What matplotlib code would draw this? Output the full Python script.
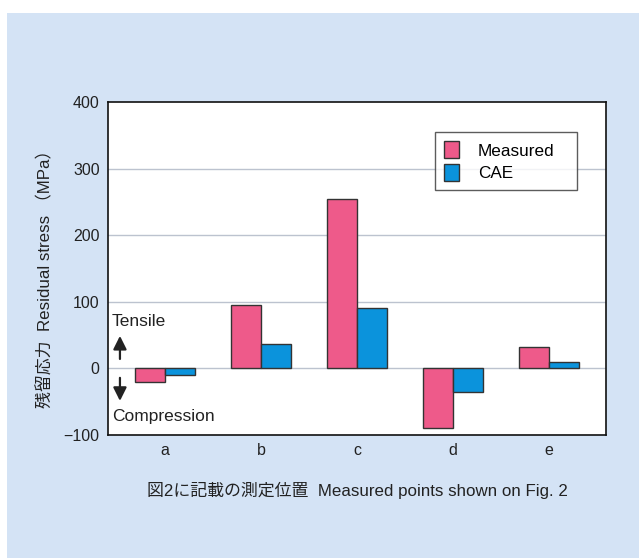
import matplotlib
matplotlib.use("Agg")
import matplotlib.pyplot as plt
import numpy as np
from matplotlib.patches import Rectangle

plt.rcParams['font.family'] = ['Liberation Sans', 'Noto Sans CJK JP', 'DejaVu Sans']

# ---------------------------------------------------------------------------
# Data
# ---------------------------------------------------------------------------
points = ["a", "b", "c", "d", "e"]
measured = [-20, 95, 255, -90, 32]
cae = [-10, 37, 90, -35, 10]
y_ticks = [-100, 0, 100, 200, 300, 400]

PINK = "#ee5a8a"
BLUE = "#0b93dc"
BG = "#d4e3f5"
EDGE = "#333333"

fig = plt.figure(figsize=(6.39, 5.58), dpi=100)
fig.patch.set_facecolor("white")
fig.patches.append(Rectangle((7 / 639, 0), 1, 1 - 13 / 558, transform=fig.transFigure,
                             facecolor=BG, edgecolor="none", zorder=-10))

ax = fig.add_axes([108 / 639, 1 - 435 / 558, 498 / 639, 333 / 558])
ax.set_facecolor("white")

x = np.arange(len(points))
w = 0.3125
ax.bar(x - w / 2, measured, w, color=PINK, edgecolor=EDGE, linewidth=1, zorder=3, label="Measured")
ax.bar(x + w / 2, cae, w, color=BLUE, edgecolor=EDGE, linewidth=1, zorder=3, label="CAE")

ax.set_xlim(-0.594, 4.594)
ax.set_ylim(-100, 400)
ax.set_yticks(y_ticks)
ax.set_yticklabels(["\u2212100" if t < 0 else str(t) for t in y_ticks])
ax.set_xticks(x)
ax.set_xticklabels(points)
ax.tick_params(length=0, labelsize=11.5, colors="#222222", pad=6)

for t in [0, 100, 200, 300]:
    ax.axhline(t, color="#bcc3cf", linewidth=1, zorder=1)

for s in ax.spines.values():
    s.set_color("#111111")
    s.set_linewidth(1.2)

ax.set_ylabel("残留応力  Residual stress （MPa）", fontsize=12.2, color="#222222",
              va="center", ha="center")
ax.yaxis.set_label_coords((45 - 108) / 498, (435 - 275) / 333)
ax.set_xlabel("図2に記載の測定位置  Measured points shown on Fig. 2", fontsize=12.2,
              color="#222222", labelpad=17)

# tensile / compression annotation
ax.text(0.008, 70, "Tensile", transform=ax.get_yaxis_transform(), fontsize=12.5,
        va="center", ha="left", color="#222222")
ax.text(0.008, -72, "Compression", transform=ax.get_yaxis_transform(), fontsize=12.5,
        va="center", ha="left", color="#222222")
arrow_kw = dict(arrowstyle="-|>,head_width=0.4,head_length=0.8", color="#222222", lw=1.6)
ax.annotate("", xy=(0.024, 53), xytext=(0.024, 10), xycoords=ax.get_yaxis_transform(),
            arrowprops=arrow_kw)
ax.annotate("", xy=(0.024, -53), xytext=(0.024, -10), xycoords=ax.get_yaxis_transform(),
            arrowprops=arrow_kw)

leg_x0 = (435 - 108) / 498
leg_y1 = (435 - 132) / 333
leg_w = (577 - 435) / 498
leg = ax.legend(loc="upper left", bbox_to_anchor=(leg_x0, leg_y1 - 0.2, leg_w, 0.2),
                mode="expand", fontsize=12.3, frameon=True, fancybox=False,
                handlelength=0.85, handleheight=1.15, handletextpad=1.1, borderpad=0.55,
                labelspacing=0.3, borderaxespad=0)
leg.get_frame().set_edgecolor("#333333")
leg.get_frame().set_linewidth(1)
leg.get_frame().set_facecolor("white")
leg.set_zorder(5)

fig.savefig("out.png", dpi=100, facecolor=fig.get_facecolor())
